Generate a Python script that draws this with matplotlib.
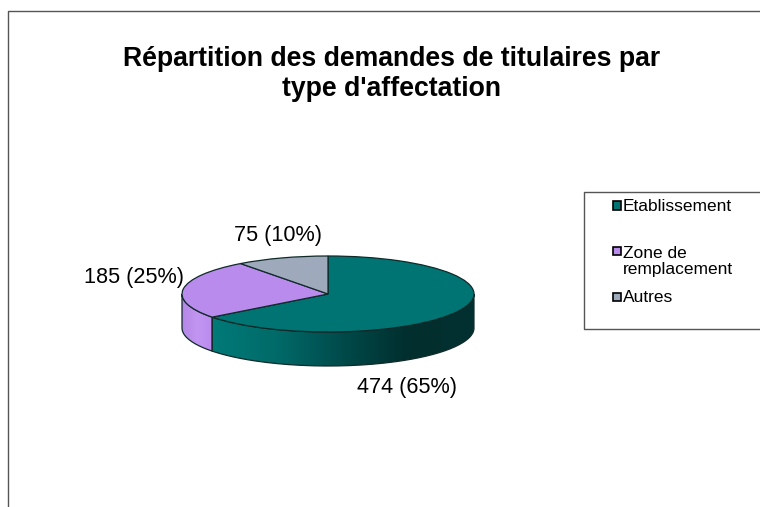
import numpy as np
import matplotlib
matplotlib.use('Agg')
import matplotlib.pyplot as plt
from matplotlib.colors import LinearSegmentedColormap
from matplotlib.patches import PathPatch, Rectangle
from matplotlib.path import Path

plt.rcParams['font.family'] = ['Liberation Sans', 'DejaVu Sans']

# data
categories = ['Etablissement', 'Zone de\nremplacement', 'Autres']
values = [474, 185, 75]
percents = [65, 25, 10]
colors = ['#007472', '#b98bec', '#9eaabb']
title = "Répartition des demandes de titulaires par\ntype d'affectation"

W, H = 760, 507
# pie ellipse in pixels
cx, cy, rx, ry, depth = 328, 294, 146, 38, 34

fig = plt.figure(figsize=(W/100, H/100), dpi=100)

# axes over whole figure, unit circle stretched to the ellipse
ax = fig.add_axes([0, 0, 1, 1])
ax.pie(values, colors=colors, startangle=90, counterclock=False, radius=1,
       wedgeprops=dict(edgecolor='#102a2a', linewidth=0.9, zorder=5))
ax.set_aspect('auto')
ax.axis('off')

# side wall of the pie
d = depth/ry
a_break = np.pi/2 - 2*np.pi*values[0]/sum(values)   # teal/purple limit
x_break = np.cos(a_break)

def wall(a0, a1):
    t = np.linspace(a0, a1, 120)
    x = np.cos(t)
    y = np.sin(t)
    xs = np.concatenate([x, x[::-1]])
    ys = np.concatenate([y, (y-d)[::-1]])
    return np.column_stack([xs, ys])

def draw_wall(a0, a1, stops, x0, x1):
    pts = wall(a0, a1)
    path = Path(np.vstack([pts, pts[:1]]))
    patch = PathPatch(path, facecolor='none', edgecolor='none', zorder=2)
    ax.add_patch(patch)
    cmap = LinearSegmentedColormap.from_list('w', stops)
    im = ax.imshow(np.linspace(0, 1, 256).reshape(1, -1), cmap=cmap, aspect='auto',
                   extent=(x0, x1, -1-d, 1), zorder=2)
    im.set_clip_path(patch)
    ax.add_patch(PathPatch(path, facecolor='none', edgecolor='#102a2a', linewidth=0.9, zorder=3))

draw_wall(np.pi, a_break+2*np.pi, ['#b486e6', '#c295f2', '#b98bec'], -1, x_break)
draw_wall(a_break, 0, ['#007a78', '#006a68', '#004a4a', '#022e2e', '#023030'], x_break, 1)
ax.set_xlim(-cx/rx, (W-cx)/rx)
ax.set_ylim((cy-H)/ry, cy/ry)

# overlay in pixels for frame, texts and legend
ov = fig.add_axes([0, 0, 1, 1])
ov.set_xlim(0, W)
ov.set_ylim(H, 0)
ov.axis('off')
ov.patch.set_alpha(0)

ov.plot([8, 8, W], [H, 11, 11], color='#555555', linewidth=1.0)
ov.text(392, 74, title, ha='center', va='center', fontsize=19.2, fontweight='bold',
        color='black', linespacing=1.18)

label_pos = [(407, 388), (134.5, 277), (277.5, 236)]
for v, p, (lx, ly) in zip(values, percents, label_pos):
    ov.text(lx, ly, '%d (%d%%)' % (v, p), ha='center', va='center', fontsize=15.6, color='black')

ov.plot([W, 583.5, 583.5, W], [192, 192, 329, 329], color='#555555', linewidth=1.0)
legend_y = [205.5, 251, 297]
for name, c, ly in zip(categories, colors, legend_y):
    ov.add_patch(Rectangle((612.5, ly-4.5), 8.5, 8.5, facecolor=c, edgecolor='black', linewidth=1.2))
    ov.text(623, ly+1+9.5*name.count('\n'), name, ha='left', va='center', fontsize=12.5,
            color='black', linespacing=1.09)

fig.savefig('out.png', dpi=100)
